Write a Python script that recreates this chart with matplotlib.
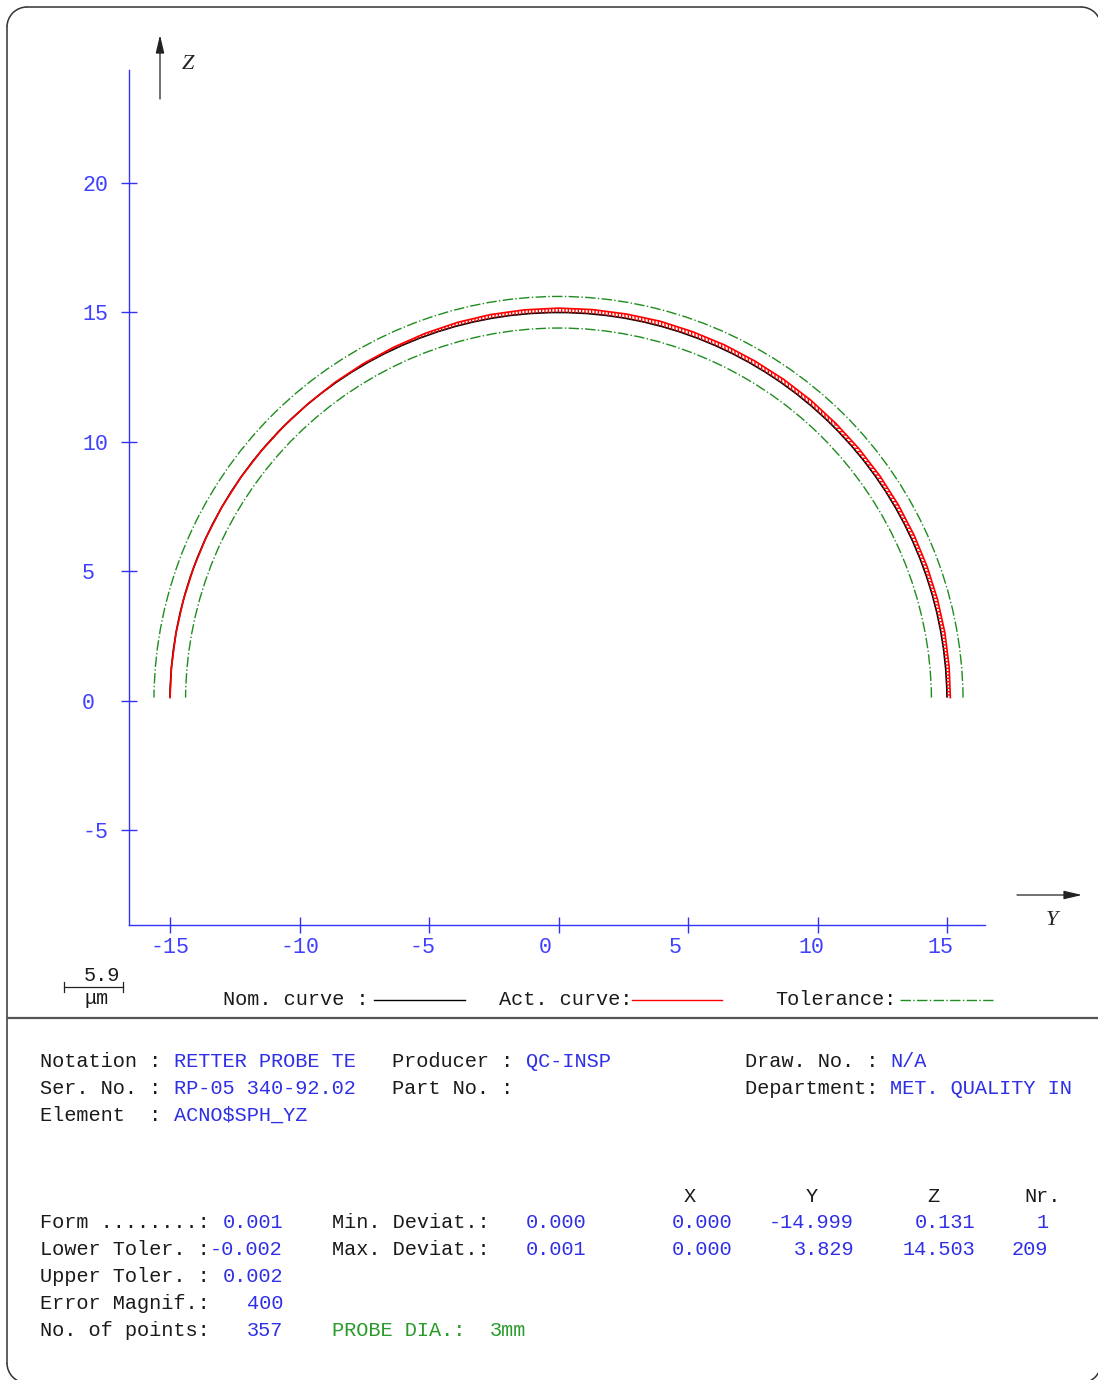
import math
import numpy as np
import matplotlib
matplotlib.use("Agg")
import matplotlib.pyplot as plt
from matplotlib.patches import Arc, Polygon, FancyArrowPatch
from matplotlib.transforms import ScaledTranslation
from matplotlib.ticker import FixedLocator, FixedFormatter

W, H, DPI = 1098, 1380, 100

# ---------------- data ----------------
nominal_radius = 15.0
upper_tol_offset = 0.62
lower_tol_offset = -0.60
first_point_z = 0.131
dev_angle_deg = list(range(0, 181, 5))
act_deviation = [0.13, 0.14, 0.15, 0.15, 0.15, 0.15, 0.15, 0.15, 0.15, 0.15,
                 0.16, 0.16, 0.16, 0.17, 0.17, 0.18, 0.17, 0.17, 0.17, 0.16,
                 0.15, 0.13, 0.10, 0.07, 0.05, 0.03, 0.01,
                 0.0, 0.0, 0.0, 0.0, 0.0, 0.0, 0.0, 0.0, 0.0, 0.0]
y_tick_values = [-15, -10, -5, 0, 5, 10, 15]
z_tick_values = [-5, 0, 5, 10, 15, 20]
y_limits = (-16.583, 16.467)
z_limits = (-8.649, 24.363)

info_rows = [
    [(0, "Notation : ", "k"), (11, "RETTER PROBE TE", "b"), (29, "Producer : ", "k"),
     (40, "QC-INSP", "b"), (58, "Draw. No. : ", "k"), (70, "N/A", "b")],
    [(0, "Ser. No. : ", "k"), (11, "RP-05 340-92.02", "b"), (29, "Part No. :", "k"),
     (58, "Department: ", "k"), (70, "MET. QUALITY IN", "b")],
    [(0, "Element  : ", "k"), (11, "ACNO$SPH_YZ", "b")],
]
coord_header = [(53, "X"), (63, "Y"), (73, "Z"), (81, "Nr.")]
result_rows = [
    [(0, "Form ........: ", "k"), (15, "0.001", "b"), (24, "Min. Deviat.:", "k"),
     (40, "0.000", "b"), (52, "0.000", "b"), (60, "-14.999", "b"), (72, "0.131", "b"), (82, "1", "b")],
    [(0, "Lower Toler. :", "k"), (14, "-0.002", "b"), (24, "Max. Deviat.:", "k"),
     (40, "0.001", "b"), (52, "0.000", "b"), (62, "3.829", "b"), (71, "14.503", "b"), (80, "209", "b")],
    [(0, "Upper Toler. : ", "k"), (15, "0.002", "b")],
    [(0, "Error Magnif.:", "k"), (17, "400", "b")],
    [(0, "No. of points:", "k"), (17, "357", "b"), (24, "PROBE DIA.:", "g"), (37, "3mm", "g")],
]
scale_value = "5.9"
scale_unit = "\u03bcm"

# ---------------- style ----------------
plt.rcParams['font.family'] = ['Liberation Mono', 'DejaVu Sans']
plt.rcParams['hatch.color'] = 'red'
plt.rcParams['hatch.linewidth'] = 1.0
AX_BLUE = '#3333f5'
LBL_BLUE = '#4040ff'
TXT_BLUE = '#2f2fe6'
GREEN = '#1e8c1e'
TXT_GREEN = '#2a9a2a'
FRAME = '#333333'
COLS = {"k": "#1a1a1a", "b": TXT_BLUE, "g": TXT_GREEN}
TXT_SIZE = 14.6
CW = 12.15
TICK_SIZE = 15.6
TCW = 0.6 * TICK_SIZE * DPI / 72.0
TOL_LS = (0, (7.5, 1.7, 1.0, 1.7))

fig = plt.figure(figsize=(W / DPI, H / DPI), dpi=DPI)

# overlay in pixel coordinates (y downward)
ov = fig.add_axes([0, 0, 1, 1], zorder=0)
ov.set_xlim(0, W)
ov.set_ylim(H, 0)
ov.axis('off')

# rounded outer frame
fl, fr, ft, fb, rr = 7, 1101, 7, 1383, 20
flw = 1.1
ov.plot([fl + rr, fr - rr], [ft, ft], color=FRAME, lw=flw, clip_on=False)
ov.plot([fl + rr, fr - rr], [fb, fb], color=FRAME, lw=flw, clip_on=False)
ov.plot([fl, fl], [ft + rr, fb - rr], color=FRAME, lw=flw, clip_on=False)
ov.plot([fr, fr], [ft + rr, fb - rr], color=FRAME, lw=flw, clip_on=False)
for (cx, cy, t1, t2) in ((fl + rr, ft + rr, 180, 270), (fr - rr, ft + rr, 270, 360),
                         (fl + rr, fb - rr, 90, 180), (fr - rr, fb - rr, 0, 90)):
    ov.add_patch(Arc((cx, cy), 2 * rr, 2 * rr, theta1=t1, theta2=t2, color=FRAME,
                     lw=flw, clip_on=False))
ov.plot([fl, fr], [1018, 1018], color='#555555', lw=1.6, solid_capstyle='butt')

# ---------------- plot axes ----------------
px_l, px_r, px_t, px_b = 129, 985, 70, 925
ax = fig.add_axes([px_l / W, (H - px_b) / H, (px_r - px_l) / W, (px_b - px_t) / H], zorder=1)
ax.set_facecolor('none')
ax.set_xlim(*y_limits)
ax.set_ylim(*z_limits)
for s in ('top', 'right'):
    ax.spines[s].set_visible(False)
for s in ('left', 'bottom'):
    ax.spines[s].set_color(AX_BLUE)
    ax.spines[s].set_linewidth(1.0)

ax.xaxis.set_major_locator(FixedLocator(y_tick_values))
ax.xaxis.set_major_formatter(FixedFormatter([str(v) for v in y_tick_values]))
ax.yaxis.set_major_locator(FixedLocator(z_tick_values))
ax.yaxis.set_major_formatter(FixedFormatter([str(v) for v in z_tick_values]))
ax.tick_params(axis='both', direction='inout', length=11.5, width=1.0, color=AX_BLUE,
               labelcolor=LBL_BLUE, labelsize=TICK_SIZE)
ax.tick_params(axis='x', pad=3)
ax.tick_params(axis='y', pad=0)

xoff = ScaledTranslation(-1.5 * TCW / DPI, 0, fig.dpi_scale_trans)
for lab in ax.get_xticklabels():
    lab.set_ha('left')
    lab.set_transform(lab.get_transform() + xoff)
yoff = ScaledTranslation(-3 * TCW / DPI, 0, fig.dpi_scale_trans)
for lab in ax.get_yticklabels():
    lab.set_ha('left')
    lab.set_transform(lab.get_transform() + yoff)

# tolerance arcs
for off in (upper_tol_offset, lower_tol_offset):
    r = nominal_radius + off
    th = math.degrees(math.asin(first_point_z / r))
    ax.add_patch(Arc((0, 0), 2 * r, 2 * r, theta1=th, theta2=180 - th,
                     color=GREEN, lw=1.0, linestyle=TOL_LS, zorder=2))

# nominal arc
th0 = math.degrees(math.asin(first_point_z / nominal_radius))
ax.add_patch(Arc((0, 0), 2 * nominal_radius, 2 * nominal_radius, theta1=th0, theta2=180 - th0,
                 color='black', lw=1.2, zorder=3))

# actual curve
ang = np.array(dev_angle_deg, dtype=float)
ang[0] = th0
ang[-1] = 180 - th0
rad = np.radians(ang)
dev = np.array(act_deviation)
ra = nominal_radius + dev
ya, za = ra * np.cos(rad), ra * np.sin(rad)
yn, zn = nominal_radius * np.cos(rad), nominal_radius * np.sin(rad)

split = 9  # index of 45 deg
for sl, hatch in ((slice(0, split + 1), '-----'), (slice(split, len(ang)), '|||||')):
    verts = np.vstack([np.column_stack([ya[sl], za[sl]]),
                       np.column_stack([yn[sl], zn[sl]])[::-1]])
    ax.add_patch(Polygon(verts, closed=True, fc='none', ec='red', lw=0, hatch=hatch, zorder=4))
ax.plot(ya, za, color='red', lw=1.2, zorder=5)

# ---------------- axis arrows and labels ----------------
ov.add_patch(FancyArrowPatch((160, 99), (160, 35), arrowstyle='-|>,head_length=11,head_width=2.6',
                             mutation_scale=1, color='#222222', lw=0.9, shrinkA=0, shrinkB=0))
ov.add_patch(FancyArrowPatch((1017, 895), (1082, 895), arrowstyle='-|>,head_length=11,head_width=2.6',
                             mutation_scale=1, color='#222222', lw=0.9, shrinkA=0, shrinkB=0))
ov.text(182, 69, "Z", family=['Liberation Serif', 'DejaVu Serif'], fontstyle='italic',
        fontsize=16, color='#222222', va='baseline', ha='left')
ov.text(1046, 925, "Y", family=['Liberation Serif', 'DejaVu Serif'], fontstyle='italic',
        fontsize=16, color='#222222', va='baseline', ha='left')

# ---------------- scale bar & legend ----------------
ov.plot([64, 123], [987, 987], color='#222222', lw=0.9)
ov.plot([64, 64], [982, 992], color='#222222', lw=0.9)
ov.plot([123, 123], [982, 992], color='#222222', lw=0.9)
ov.text(101.5, 981, scale_value, ha='center', va='baseline', fontsize=TXT_SIZE, color='#1a1a1a')
ov.text(97, 1004, scale_unit, ha='center', va='baseline', fontsize=TXT_SIZE, color='#1a1a1a')

ov.text(223, 1005, "Nom. curve :", ha='left', va='baseline', fontsize=TXT_SIZE, color='#1a1a1a')
ov.plot([374, 465], [1000, 1000], color='black', lw=1.0)
ov.text(499, 1005, "Act. curve:", ha='left', va='baseline', fontsize=TXT_SIZE, color='#1a1a1a')
ov.plot([632, 722], [1000, 1000], color='red', lw=1.0)
ov.text(775, 1005, "Tolerance:", ha='left', va='baseline', fontsize=TXT_SIZE, color='#1a1a1a')
ov.plot([900, 993], [1000, 1000], color=GREEN, lw=1.0, linestyle=TOL_LS)

# ---------------- info block ----------------
X0 = 40
for i, row in enumerate(info_rows):
    base = 1067 + 27 * i
    for col, s, c in row:
        ov.text(X0 + col * CW, base, s, ha='left', va='baseline', fontsize=TXT_SIZE, color=COLS[c])

for col, s in coord_header:
    ov.text(X0 + col * CW, 1202, s, ha='left', va='baseline', fontsize=TXT_SIZE, color='#1a1a1a')

for i, row in enumerate(result_rows):
    base = 1228 + 27 * i
    for col, s, c in row:
        ov.text(X0 + col * CW, base, s, ha='left', va='baseline', fontsize=TXT_SIZE, color=COLS[c])

fig.savefig("out.png", dpi=DPI)
